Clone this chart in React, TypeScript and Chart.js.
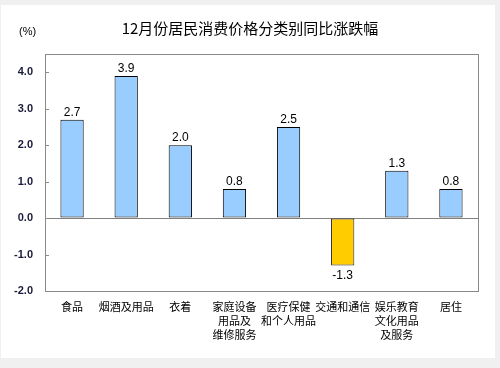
import React, { useEffect, useRef } from "react";
import { Chart, registerables } from "chart.js";

Chart.register(...registerables);

const titleText = "12月份居民消费价格分类别同比涨跌幅";
const unitText = "(%)";
const categories: string[][] = [
  ["食品"],
  ["烟酒及用品"],
  ["衣着"],
  ["家庭设备", "用品及", "维修服务"],
  ["医疗保健", "和个人用品"],
  ["交通和通信"],
  ["娱乐教育", "文化用品", "及服务"],
  ["居住"],
];
const values: number[] = [2.7, 3.9, 2.0, 0.8, 2.5, -1.3, 1.3, 0.8];
const yMin = -2;
const yMax = 4.5;
const yStep = 1;

const decorPlugin = {
  id: "decor",
  beforeDraw(chart: any) {
    const { ctx, width, height } = chart;
    ctx.save();
    ctx.fillStyle = "#f0f0f0";
    ctx.fillRect(0, 0, width, height);
    ctx.fillStyle = "#ffffff";
    ctx.fillRect(1, 5, 494, 353);
    ctx.restore();
  },
  afterDraw(chart: any) {
    const { ctx, chartArea } = chart;
    const y = chart.scales.y;
    ctx.save();
    // plot border
    ctx.strokeStyle = "#8a8a8a";
    ctx.lineWidth = 1;
    ctx.strokeRect(
      Math.round(chartArea.left) + 0.5,
      Math.round(chartArea.top) + 0.5,
      Math.round(chartArea.right - chartArea.left),
      Math.round(chartArea.bottom - chartArea.top)
    );
    // inward tick marks
    ctx.strokeStyle = "#8a8a8a";
    y.ticks.forEach((t: any) => {
      const py = Math.round(y.getPixelForValue(t.value)) + 0.5;
      ctx.beginPath();
      ctx.moveTo(chartArea.left, py);
      ctx.lineTo(chartArea.left + 4, py);
      ctx.stroke();
    });
    // title
    ctx.fillStyle = "#000000";
    ctx.font = '15px "Noto Sans CJK SC"';
    ctx.textAlign = "center";
    ctx.textBaseline = "middle";
    ctx.fillText(titleText, 250, 28);
    ctx.font = '11px "Liberation Sans"';
    ctx.textAlign = "left";
    ctx.fillText(unitText, 19, 32);
    // data labels
    const meta = chart.getDatasetMeta(0);
    ctx.font = '12px "Liberation Sans"';
    ctx.textAlign = "center";
    meta.data.forEach((bar: any, i: number) => {
      const v = values[i];
      const txt = v.toFixed(1);
      if (v >= 0) {
        ctx.textBaseline = "bottom";
        ctx.fillText(txt, bar.x, bar.y - 1);
      } else {
        ctx.textBaseline = "top";
        ctx.fillText(txt, bar.x, bar.y + 4);
      }
    });
    ctx.restore();
  },
};

export default function App() {
  const ref = useRef<HTMLCanvasElement | null>(null);
  useEffect(() => {
    if (!ref.current) return;
    const chart = new Chart(ref.current, {
      type: "bar",
      data: {
        labels: categories,
        datasets: [
          {
            data: values,
            backgroundColor: values.map((v) => (v < 0 ? "#ffcc00" : "#99ccff")),
            borderColor: values.map((v) => (v < 0 ? "#222233" : "#000000")),
            borderWidth: 1,
            borderSkipped: false,
            barPercentage: 0.43,
            categoryPercentage: 1,
          },
        ],
      },
      options: {
        animation: false,
        responsive: false,
        maintainAspectRatio: false,
        layout: { padding: { top: 54, right: 22, left: 0, bottom: 0 } },
        plugins: {
          legend: { display: false },
          title: { display: false },
          tooltip: { enabled: false },
        },
        scales: {
          x: {
            grid: { display: false, drawTicks: false },
            border: { display: false },
            ticks: {
              autoSkip: false,
              maxRotation: 0,
              minRotation: 0,
              padding: 9,
              color: "#000000",
              font: { family: '"Noto Sans CJK SC"', size: 11, lineHeight: 1.27 },
            },
            afterFit(scale: any) {
              scale.height = 77;
            },
          },
          y: {
            min: yMin,
            max: yMax,
            ticks: {
              stepSize: yStep,
              padding: 12,
              color: "#1a1a3a",
              font: { family: '"Liberation Sans"', size: 11, weight: "bold" },
              callback: (v: any) => Number(v).toFixed(1),
            },
            afterBuildTicks(scale: any) {
              scale.ticks = scale.ticks.filter((t: any) => Number.isInteger(t.value));
            },
            grid: {
              drawTicks: false,
              color: (c: any) => (c.tick && c.tick.value === 0 ? "#808080" : "rgba(0,0,0,0)"),
              lineWidth: 1,
            },
            border: { display: false },
            afterFit(scale: any) {
              scale.width = 45;
            },
          },
        },
      },
      plugins: [decorPlugin],
    });
    return () => chart.destroy();
  }, []);
  return (
    <div style={{ position: "absolute", left: 0, top: 0, width: 500, height: 368 }}>
      <canvas ref={ref} width={500} height={368} style={{ width: 500, height: 368, display: "block" }} />
    </div>
  );
}
